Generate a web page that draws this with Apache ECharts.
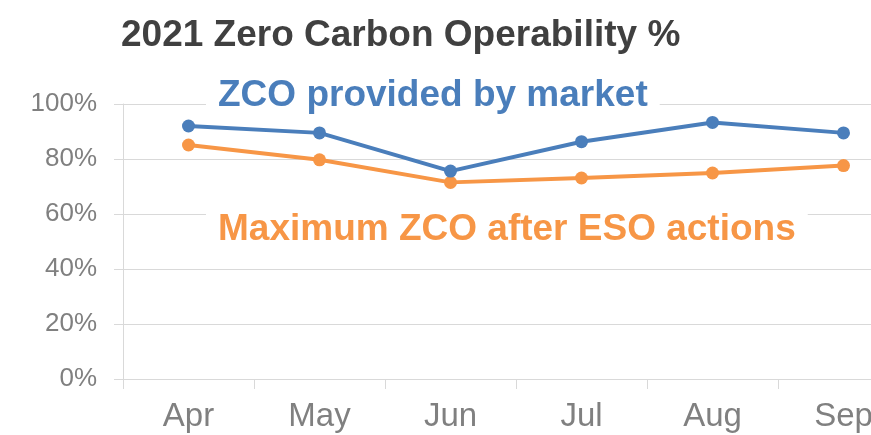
<!DOCTYPE html>
<html>
<head>
<meta charset="utf-8">
<script src="https://cdn.jsdelivr.net/npm/echarts@6/dist/echarts.min.js"></script>
<style>
  html, body { margin: 0; padding: 0; background: #ffffff; overflow: hidden; width: 871px; height: 435px; }
  /* the plot runs past the right edge in the reference, so the canvas is wider than the window */
  #main { width: 915px; height: 435px; }
</style>
</head>
<body>
<div id="main"></div>
<script>
var months = ['Apr', 'May', 'Jun', 'Jul', 'Aug', 'Sep'];
// % values
var zcoMarket = [92.0, 89.5, 75.6, 86.3, 93.3, 89.5];
var zcoMaxEso = [85.1, 79.7, 71.5, 73.1, 74.9, 77.6];
var yTicks = [0, 20, 40, 60, 80, 100];

var blue = '#4a7ebb';
var orange = '#f79646';
var gridGrey = '#d9d9d9';
var fontFam = 'Liberation Sans, Arial, sans-serif';

var myChart = echarts.init(document.getElementById('main'));

var option = {
    backgroundColor: '#ffffff',
    animation: false,
    title: [
        {
            text: '2021 Zero Carbon Operability %',
            left: 121,
            top: 17,
            padding: 0,
            textStyle: { fontFamily: fontFam, fontSize: 37, fontWeight: 'bold', color: '#404040' }
        },
        {
            text: 'ZCO provided by market',
            left: 206,
            top: 77,
            padding: [0, 12],
            backgroundColor: '#ffffff',
            textStyle: { fontFamily: fontFam, fontSize: 37, fontWeight: 'bold', color: blue }
        },
        {
            text: 'Maximum ZCO after ESO actions',
            left: 206,
            top: 211,
            padding: [0, 12],
            backgroundColor: '#ffffff',
            textStyle: { fontFamily: fontFam, fontSize: 37, fontWeight: 'bold', color: orange }
        }
    ],
    grid: {
        left: 123,
        right: 6,
        top: 104,
        bottom: 56,
        containLabel: false
    },
    xAxis: {
        type: 'category',
        data: months,
        boundaryGap: true,
        axisLine: { show: true, lineStyle: { color: gridGrey, width: 1 } },
        axisTick: { show: true, length: 10, lineStyle: { color: gridGrey } },
        axisLabel: { margin: 21, fontFamily: fontFam, fontSize: 33, color: '#808080' }
    },
    yAxis: {
        type: 'value',
        min: 0,
        max: 100,
        interval: 20,
        axisLine: { show: true, lineStyle: { color: gridGrey, width: 1 } },
        axisTick: { show: true, length: 9, lineStyle: { color: gridGrey } },
        splitLine: { show: true, lineStyle: { color: gridGrey, width: 1 } },
        axisLabel: {
            margin: 26,
            fontFamily: fontFam,
            fontSize: 26,
            color: '#808080',
            formatter: function (v) {
                return yTicks.indexOf(v) >= 0 ? v + '%' : '';
            }
        }
    },
    series: [
        {
            name: 'Maximum ZCO after ESO actions',
            type: 'line',
            data: zcoMaxEso,
            symbol: 'circle',
            symbolSize: 13,
            lineStyle: { color: orange, width: 4 },
            itemStyle: { color: orange },
            z: 3
        },
        {
            name: 'ZCO provided by market',
            type: 'line',
            data: zcoMarket,
            symbol: 'circle',
            symbolSize: 13,
            lineStyle: { color: blue, width: 4 },
            itemStyle: { color: blue },
            z: 4
        }
    ]
};

myChart.setOption(option);
</script>
</body>
</html>
